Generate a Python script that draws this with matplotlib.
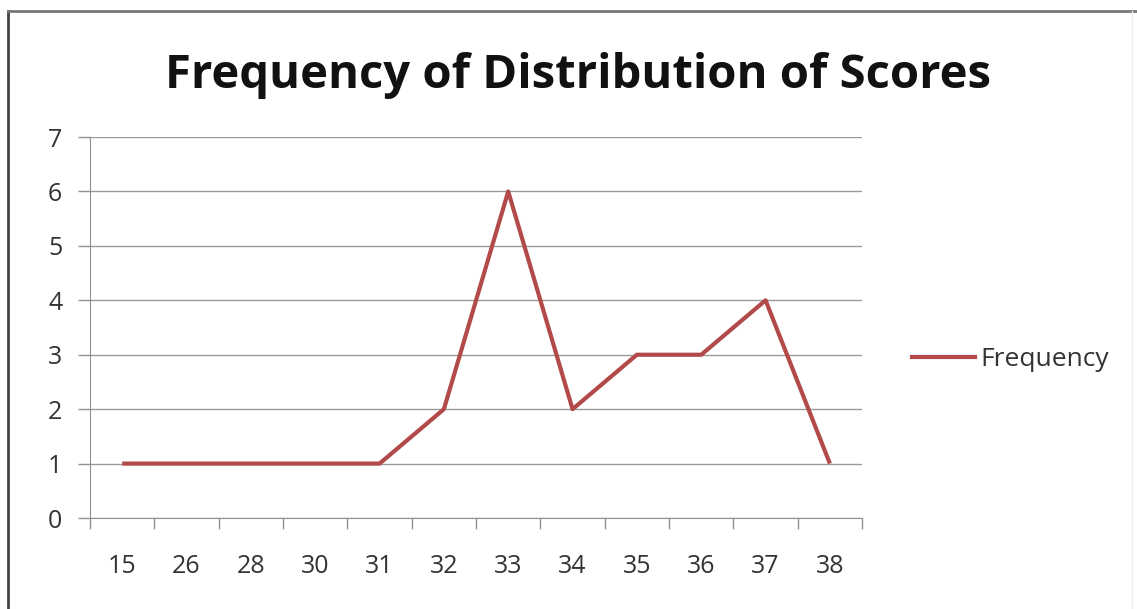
import matplotlib.pyplot as plt
import numpy as np
from matplotlib.lines import Line2D

scores = ['15', '26', '28', '30', '31', '32', '33', '34', '35', '36', '37', '38']
frequency = [1, 1, 1, 1, 1, 2, 6, 2, 3, 3, 4, 1]
y_ticks = [0, 1, 2, 3, 4, 5, 6, 7]

plt.rcParams['font.family'] = ['Open Sans', 'DejaVu Sans']

fig = plt.figure(figsize=(11.37, 6.09), dpi=100)
ax = fig.add_axes([0.0792, 0.1494, 0.679, 0.6256])

x = np.arange(len(scores))
ax.plot(x, frequency, color='#B24A4A', lw=3, solid_capstyle='butt', label='Frequency')

ax.set_xlim(-0.5, len(scores) - 0.5)
ax.set_ylim(0, 7)

# category labels in the middle, tick marks on the boundaries
ax.set_xticks(np.arange(-0.5, len(scores), 1.0))
ax.set_xticklabels([])
ax.set_xticks(x, minor=True)
ax.set_xticklabels(scores, minor=True)
ax.tick_params(axis='x', which='major', length=8, color='#909090', width=1, direction='out')
ax.tick_params(axis='x', which='minor', length=0, pad=26, labelsize=18, labelcolor='#333333')

ax.set_yticks(y_ticks)
ax.tick_params(axis='y', length=9, color='#909090', width=1, pad=11, labelsize=18, labelcolor='#333333')

ax.grid(axis='y', color='#999999', lw=1)
ax.set_axisbelow(True)
for s in ['top', 'right']:
    ax.spines[s].set_visible(False)
for s in ['left', 'bottom']:
    ax.spines[s].set_color('#909090')

fig.text(0.508, 0.876, 'Frequency of Distribution of Scores', ha='center', va='center',
         fontsize=34, fontweight='bold', color='#111111')

fig.legend(handles=[Line2D([0], [0], color='#B24A4A', lw=3)], labels=['Frequency'],
           loc='center left', bbox_to_anchor=(0.802, 0.409), frameon=False,
           borderpad=0, borderaxespad=0,
           fontsize=19, handlelength=2.4, handletextpad=0.2, labelcolor='#333333')

# outer frame (top and left edges visible)
fig.add_artist(Line2D([0.007, 0.007], [0, 0.982], color='#444444', lw=2, transform=fig.transFigure))
fig.add_artist(Line2D([0.007, 1], [0.982, 0.982], color='#777777', lw=2, transform=fig.transFigure))
fig.add_artist(Line2D([0.996, 0.996], [0, 0.982], color='#EEEEEE', lw=1, transform=fig.transFigure))

plt.savefig('out.png', dpi=100)
